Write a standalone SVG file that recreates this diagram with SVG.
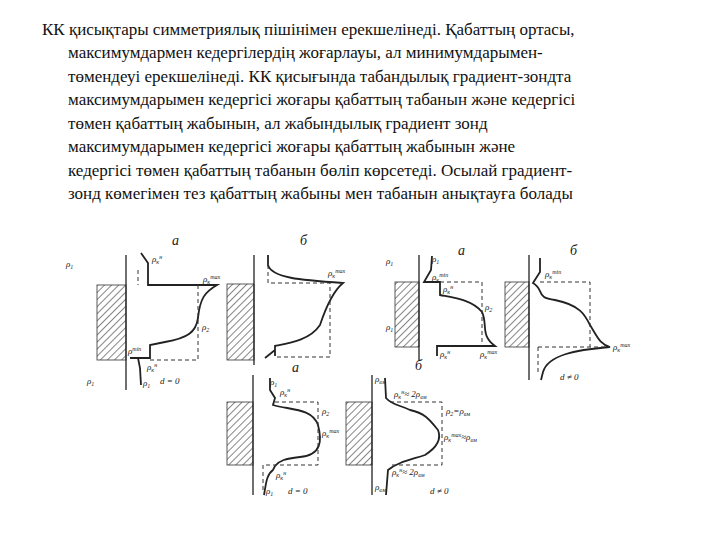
<svg xmlns="http://www.w3.org/2000/svg" width="720" height="540" viewBox="0 0 720 540">
<style>
.t{font-family:"Liberation Serif","DejaVu Serif",serif;font-size:17px;fill:#111}
.l{font-family:"Liberation Serif","DejaVu Serif",serif;font-size:9px;font-style:italic;fill:#222}
.big{font-family:"Liberation Serif","DejaVu Serif",serif;font-size:14px;font-style:italic;fill:#222}
.ax{stroke:#222;stroke-width:1.3;fill:none}
.c{stroke:#222;stroke-width:1.8;fill:none}
.d{stroke:#333;stroke-width:1;stroke-dasharray:4 3;fill:none}
.h{fill:url(#hatch);stroke:#333;stroke-width:0.8}
</style>
<defs>
<pattern id="hatch" width="5" height="5" patternUnits="userSpaceOnUse" patternTransform="rotate(45)">
<rect width="5" height="5" fill="#fff"/><line x1="0" y1="0" x2="0" y2="5" stroke="#444" stroke-width="1.3"/>
</pattern>
</defs>
<rect width="720" height="540" fill="#fff"/>
<g id="text">
<text class="t" x="42" y="35">КК қисықтары симметриялық пішінімен ерекшелінеді. Қабаттың ортасы,</text>
<text class="t" x="68" y="58">максимумдармен кедергілердің жоғарлауы, ал минимумдарымен-</text>
<text class="t" x="68" y="82">төмендеуі ерекшелінеді. КК қисығында табандылық градиент-зондта</text>
<text class="t" x="68" y="105">максимумдарымен кедергісі жоғары қабаттың табанын және кедергісі</text>
<text class="t" x="68" y="129">төмен қабаттың жабынын, ал жабындылық градиент зонд</text>
<text class="t" x="68" y="152">максимумдарымен кедергісі жоғары қабаттың жабынын және</text>
<text class="t" x="68" y="176">кедергісі төмен қабаттың табанын бөліп көрсетеді. Осылай градиент-</text>
<text class="t" x="68" y="199">зонд көмегімен тез қабаттың жабыны мен табанын анықтауға болады</text>
</g>
<g id="fig1">
<rect class="h" x="97" y="285" width="29" height="75"/>
<line class="ax" x1="126" y1="255" x2="126" y2="390"/>
<path class="c" d="M141,253 L148,263 L148,285 L217,285 C205,292 200,298 198,318 C196,332 188,338 165,342 L150,345 L150,358 L130,358 M138,358 L140,368 L141,385"/>
<path class="d" d="M138,270 L138,285 M198,285 L198,360 L150,360"/>
<text class="big" x="172" y="245">а</text>
<text class="l" x="66" y="267">ρ<tspan font-size="6" dy="2">1</tspan></text>
<text class="l" x="152" y="262">ρ<tspan font-size="6" dy="2">к</tspan><tspan font-size="6" dy="-5">н</tspan></text>
<text class="l" x="203" y="282">ρ<tspan font-size="6" dy="2">к</tspan><tspan font-size="6" dy="-5">max</tspan></text>
<text class="l" x="202" y="330">ρ<tspan font-size="6" dy="2">2</tspan></text>
<text class="l" x="128" y="354">ρ<tspan font-size="6" dy="-3">min</tspan></text>
<text class="l" x="147" y="370">ρ<tspan font-size="6" dy="2">к</tspan><tspan font-size="6" dy="-5">н</tspan></text>
<text class="l" x="143" y="386">ρ<tspan font-size="6" dy="2">1</tspan></text>
<text class="l" x="87" y="384">ρ<tspan font-size="6" dy="2">1</tspan></text>
<text class="l" x="160" y="384">d = 0</text>
</g>
<g id="fig2">
<rect class="h" x="227" y="284" width="27" height="76"/>
<line class="ax" x1="254" y1="255" x2="254" y2="365"/>
<path class="c" d="M268,255 L268,265 C272,278 300,280 343,283 C332,292 325,310 320,325 C310,340 290,343 275,346 L275,356 M275,350 L265,358"/>
<path class="d" d="M268,265 L268,283 L330,283 L330,357 L275,357"/>
<text class="big" x="300" y="245">б</text>
<text class="l" x="328" y="276">ρ<tspan font-size="6" dy="2">к</tspan><tspan font-size="6" dy="-5">max</tspan></text>
</g>
<g id="fig3">
<rect class="h" x="395" y="282" width="24" height="65"/>
<line class="ax" x1="419" y1="255" x2="419" y2="360"/>
<path class="c" d="M432,256 L431,270 L424,282 L440,282 L440,295 C455,298 472,300 482,312 C488,325 480,335 495,346 L437,346 L437,356"/>
<path class="d" d="M440,282 L482,282 L482,346"/>
<text class="big" x="458" y="255">а</text>
<text class="l" x="386" y="264">ρ<tspan font-size="6" dy="2">1</tspan></text>
<text class="l" x="432" y="262">ρ<tspan font-size="6" dy="2">1</tspan></text>
<text class="l" x="432" y="280">ρ<tspan font-size="6" dy="2">к</tspan><tspan font-size="6" dy="-5">min</tspan></text>
<text class="l" x="443" y="292">ρ<tspan font-size="6" dy="2">к</tspan><tspan font-size="6" dy="-5">н</tspan></text>
<text class="l" x="485" y="310">ρ<tspan font-size="6" dy="2">2</tspan></text>
<text class="l" x="386" y="330">ρ<tspan font-size="6" dy="2">1</tspan></text>
<text class="l" x="440" y="357">ρ<tspan font-size="6" dy="2">к</tspan><tspan font-size="6" dy="-5">н</tspan></text>
<text class="l" x="480" y="357">ρ<tspan font-size="6" dy="2">к</tspan><tspan font-size="6" dy="-5">max</tspan></text>
</g>
<g id="fig4">
<rect class="h" x="505" y="282" width="24" height="65"/>
<line class="ax" x1="529" y1="255" x2="529" y2="380"/>
<path class="c" d="M540,258 L540,272 L533,283 C545,290 535,298 555,300 C580,305 585,315 590,325 C598,338 600,344 610,347 C575,350 548,355 543,372 L541,380"/>
<path class="d" d="M540,282 L590,282 L590,347 M538,347 L610,347 M538,347 L538,372"/>
<text class="big" x="570" y="255">б</text>
<text class="l" x="545" y="277">ρ<tspan font-size="6" dy="2">к</tspan><tspan font-size="6" dy="-5">min</tspan></text>
<text class="l" x="613" y="350">ρ<tspan font-size="6" dy="2">к</tspan><tspan font-size="6" dy="-5">max</tspan></text>
<text class="l" x="560" y="380">d ≠ 0</text>
</g>
<g id="fig5">
<rect class="h" x="227" y="402" width="26" height="63"/>
<line class="ax" x1="253" y1="375" x2="253" y2="495"/>
<path class="c" d="M270,378 L270,390 L275,398 L273,405 C290,410 312,408 318,425 C322,440 322,455 300,457 C285,459 280,460 275,466 L273,470 C266,475 266,485 264,495"/>
<path class="d" d="M275,402 L318,402 L318,465 L263,465 L263,490"/>
<text class="big" x="292" y="372">а</text>
<text class="l" x="270" y="385">ρ<tspan font-size="6" dy="2">1</tspan></text>
<text class="l" x="280" y="395">ρ<tspan font-size="6" dy="2">к</tspan><tspan font-size="6" dy="-5">н</tspan></text>
<text class="l" x="322" y="414">ρ<tspan font-size="6" dy="2">2</tspan></text>
<text class="l" x="322" y="436">ρ<tspan font-size="6" dy="2">к</tspan><tspan font-size="6" dy="-5">max</tspan></text>
<text class="l" x="276" y="478">ρ<tspan font-size="6" dy="2">к</tspan><tspan font-size="6" dy="-5">н</tspan></text>
<text class="l" x="266" y="494">ρ<tspan font-size="6" dy="2">1</tspan></text>
<text class="l" x="288" y="494">d = 0</text>
</g>
<g id="fig6">
<rect class="h" x="346" y="402" width="26" height="63"/>
<line class="ax" x1="372" y1="375" x2="372" y2="495"/>
<path class="c" d="M385,378 L386,398 C392,405 400,405 410,410 C425,413 430,420 438,430 C442,440 436,448 425,455 C410,460 398,462 388,470 L386,495"/>
<path class="d" d="M390,402 L442,402 L442,465 L390,465"/>
<text class="big" x="415" y="370">б</text>
<text class="l" x="375" y="382">ρ<tspan font-size="6" dy="2">вм</tspan></text>
<text class="l" x="394" y="397">ρ<tspan font-size="6" dy="2">к</tspan><tspan font-size="6" dy="-5">н</tspan><tspan dy="3">≈ 2ρ</tspan><tspan font-size="6" dy="2">вм</tspan></text>
<text class="l" x="446" y="414">ρ<tspan font-size="6" dy="2">2</tspan><tspan dy="-2">=ρ</tspan><tspan font-size="6" dy="2">вм</tspan></text>
<text class="l" x="444" y="440">ρ<tspan font-size="6" dy="2">к</tspan><tspan font-size="6" dy="-5">max</tspan><tspan dy="3">≈ρ</tspan><tspan font-size="6" dy="2">вм</tspan></text>
<text class="l" x="392" y="475">ρ<tspan font-size="6" dy="2">к</tspan><tspan font-size="6" dy="-5">н</tspan><tspan dy="3">≈ 2ρ</tspan><tspan font-size="6" dy="2">вм</tspan></text>
<text class="l" x="375" y="490">ρ<tspan font-size="6" dy="2">вм</tspan></text>
<text class="l" x="430" y="494">d ≠ 0</text>
</g>
</svg>
